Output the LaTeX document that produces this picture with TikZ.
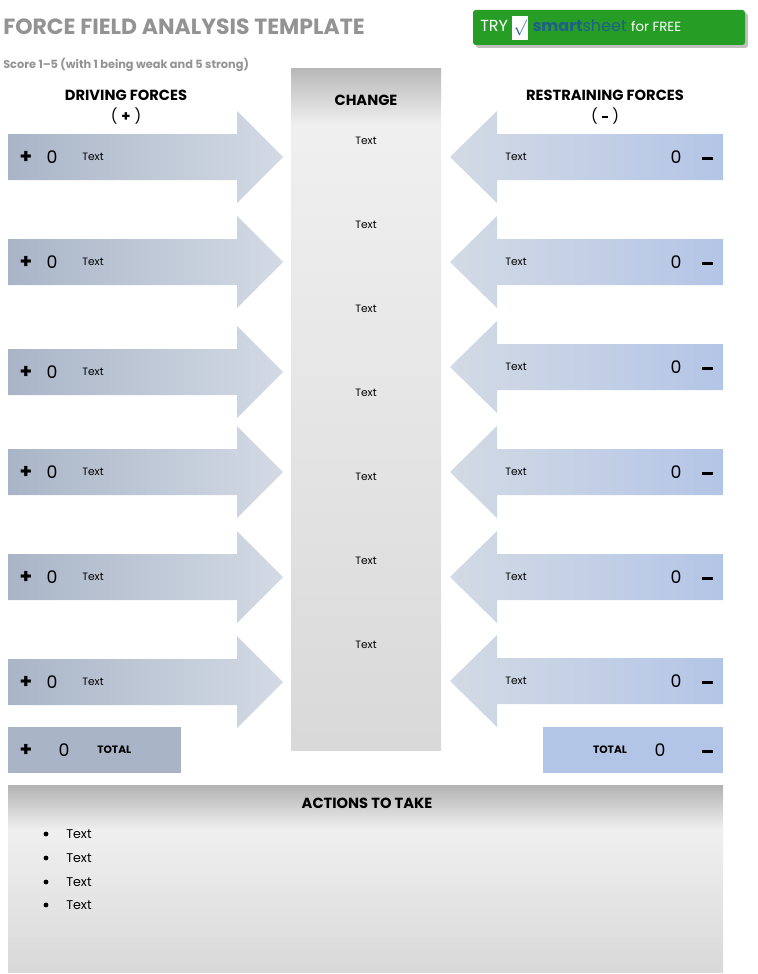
\documentclass[tikz,border=0pt]{standalone}
\usepackage{fontspec}
\setmainfont{Poppins}
\begin{document}
\begin{tikzpicture}[x=0.75pt,y=-0.75pt,
  lab/.style={inner sep=0pt,font=\fontsize{8}{9}\selectfont},
  num/.style={inner sep=0pt,font=\fontsize{13}{14}\selectfont},
  sgn/.style={inner sep=0pt,font=\bfseries\fontsize{15}{16}\selectfont},
  hdr/.style={inner sep=0pt,font=\bfseries\fontsize{11}{12}\selectfont}]
\definecolor{dl}{HTML}{A9B5C7}\definecolor{dr}{HTML}{D3DAE5}
\definecolor{rr}{HTML}{B3C5E6}\definecolor{ss}{HTML}{1F5F8B}
\useasboundingbox (0,0) rectangle (757,974);
\node[anchor=west,inner sep=0pt,text=gray!85,font=\bfseries\fontsize{16.5}{18}\selectfont] (title) at (3,27) {FORCE FIELD ANALYSIS TEMPLATE};
\node[anchor=west,inner sep=0pt,text=gray!85,font=\bfseries\fontsize{8.5}{10}\selectfont] (score) at (3,65) {Score 1–5 (with 1 being weak and 5 strong)};
% button
\fill[black!25,rounded corners=2pt] (476,13) rectangle (748,48);
\fill[green!55!black!85,rounded corners=2pt] (473,10) rectangle (745,45);
\node[anchor=west,inner sep=0pt,text=white,font=\fontsize{12}{13}\selectfont] (btn) at (480,28) {TRY \colorbox{white}{\kern-2pt\textcolor{ss}{$\surd$}\kern-2pt} {\color{ss}\bfseries smart}{\color{ss}sheet} \fontsize{10}{11}\selectfont for FREE};
% change column
\shade[top color=black!28,bottom color=black!6] (291,69) rectangle (441,125);
\shade[top color=black!6,bottom color=black!15] (291,125) rectangle (441,750);
\node[hdr] (chg) at (366,100) {CHANGE};
\foreach \y in {141,225,309,393,477,561,645} \node[lab] at (366,\y) {Text};
% headers
\node[hdr] (dh) at (126,95) {DRIVING FORCES};
\node[inner sep=0pt,font=\fontsize{11}{12}\selectfont] at (126,116) {( \textbf{+} )};
\node[hdr] (rh) at (605,95) {RESTRAINING FORCES};
\node[inner sep=0pt,font=\fontsize{11}{12}\selectfont] at (605,116) {( \rule[2.5pt]{5pt}{1.6pt} )};
% left arrows
\foreach \c in {157,262,372,472,577,682}{
  \shade[left color=dl,right color=dr] (8,\c-23) -- (237,\c-23) -- (237,\c-46) -- (283,\c) -- (237,\c+46) -- (237,\c+23) -- (8,\c+23) -- cycle;
  \node[sgn] at (26,\c) {+};
  \node[num] at (52,\c) {0};
  \node[lab,anchor=west] at (82,\c) {Text};
}
% right arrows
\foreach \c in {157,262,367,472,577,681}{
  \shade[left color=dr,right color=rr] (723,\c-23) -- (497,\c-23) -- (497,\c-46) -- (450,\c) -- (497,\c+46) -- (497,\c+23) -- (723,\c+23) -- cycle;
  \fill (702,\c) rectangle (713,\c+3);
  \node[num] at (676,\c) {0};
  \node[lab,anchor=west] at (505,\c) {Text};
}
% totals
\fill[dl] (8,727) rectangle (181,773);
\node[sgn] at (26,750) {+};
\node[num] at (64,750) {0};
\node[lab,font=\bfseries\fontsize{8}{9}\selectfont,anchor=west] at (97,750) {TOTAL};
\fill[rr] (543,727) rectangle (723,773);
\fill (702,750) rectangle (713,753);
\node[num] at (660,750) {0};
\node[lab,font=\bfseries\fontsize{8}{9}\selectfont] at (610,750) {TOTAL};
% actions
\shade[top color=black!30,bottom color=black!6] (8,785) rectangle (723,830);
\shade[top color=black!6,bottom color=black!15] (8,830) rectangle (723,972);
\node[hdr] (act) at (367,803) {ACTIONS TO TAKE};
\foreach \y in {834,858,882,905}{
  \fill (46,\y) circle (2.4);
  \node[lab,anchor=west,font=\fontsize{9.5}{10}\selectfont] at (66,\y) {Text};
}
\end{tikzpicture}
\end{document}
